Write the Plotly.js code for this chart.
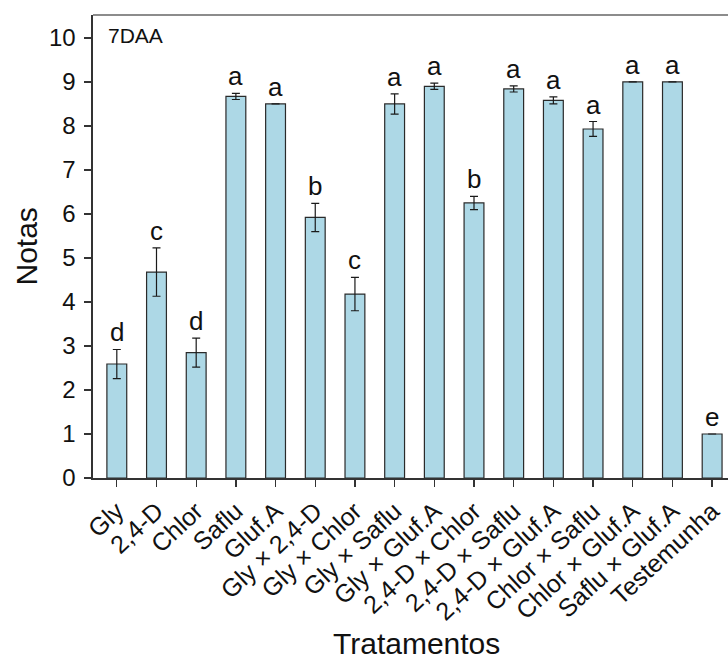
<!DOCTYPE html>
<html>
<head>
<meta charset="utf-8">
<script src="https://cdn.plot.ly/plotly-3.0.1.min.js"></script>
<style>html,body{margin:0;padding:0;background:#fff;}#chart{width:728px;height:659px;}</style>
</head>
<body>
<div id="chart"></div>
<script>
const categories = ["Gly", "2,4-D", "Chlor", "Saflu", "Gluf.A",
  "Gly × 2,4-D", "Gly × Chlor", "Gly × Saflu", "Gly × Gluf.A",
  "2,4-D × Chlor", "2,4-D × Saflu", "2,4-D × Gluf.A",
  "Chlor × Saflu", "Chlor × Gluf.A", "Saflu × Gluf.A", "Testemunha"];
const means = [2.59, 4.68, 2.85, 8.67, 8.5, 5.92, 4.18, 8.5, 8.9, 6.25, 8.84, 8.58, 7.93, 9.0, 9.0, 1.0];
const errors = [0.33, 0.55, 0.33, 0.07, 0, 0.32, 0.38, 0.23, 0.07, 0.15, 0.07, 0.08, 0.17, 0, 0, 0];
const letters = ["d", "c", "d", "a", "a", "b", "c", "a", "a", "b", "a", "a", "a", "a", "a", "e"];
const panelLabel = "7DAA";
const xTitle = "Tratamentos";
const yTitle = "Notas";

const FONT = "Arial, Liberation Sans, sans-serif";

const trace = {
  type: "bar",
  x: categories,
  y: means,
  width: 0.5,
  marker: {color: "#ADD8E6", line: {color: "#2a2a2a", width: 1.2}},
  error_y: {type: "data", array: errors, visible: true, color: "#1a1a1a", thickness: 1.2, width: 4},
  hoverinfo: "skip"
};

const annotations = categories.map((c, i) => ({
  x: c, y: means[i] + errors[i], xref: "x", yref: "y",
  text: letters[i], showarrow: false, yanchor: "bottom", yshift: 0,
  font: {family: FONT, size: 26, color: "#111"}
}));
annotations.push({
  xref: "paper", yref: "paper", x: 0.02, y: 0.985, xanchor: "left", yanchor: "top",
  text: panelLabel, showarrow: false,
  font: {family: FONT, size: 21, color: "#111"}
});
// axis titles placed in pixel space below / left of the plot
annotations.push({
  xref: "paper", yref: "paper", x: 0.51, y: 0, yshift: -147, xanchor: "center", yanchor: "top",
  text: xTitle, showarrow: false,
  font: {family: FONT, size: 30, color: "#111"}
});
annotations.push({
  xref: "paper", yref: "paper", x: 0, xshift: -67, y: 0.5, xanchor: "center", yanchor: "middle",
  text: yTitle, textangle: -90, showarrow: false,
  font: {family: FONT, size: 30, color: "#111"}
});

const layout = {
  width: 728, height: 659,
  margin: {l: 93, r: 0, t: 15, b: 181},
  paper_bgcolor: "#fff", plot_bgcolor: "#fff",
  showlegend: false,
  xaxis: {
    type: "category",
    automargin: false,
    range: [-0.6, 15.4],
    tickangle: -43,
    ticks: "outside", ticklen: 7, tickcolor: "#333", tickwidth: 1.3,
    showline: true, linecolor: "#333", linewidth: 1.6,
    showgrid: false, zeroline: false,
    tickfont: {family: FONT, size: 25, color: "#111"}
  },
  yaxis: {
    automargin: false,
    range: [0, 10.52],
    tickvals: [0,1,2,3,4,5,6,7,8,9,10],
    ticks: "outside", ticklen: 7, tickcolor: "#333", tickwidth: 1.3,
    ticklabelstandoff: 4,
    showline: true, linecolor: "#333", linewidth: 1.6,
    showgrid: false, zeroline: false,
    tickfont: {family: FONT, size: 24, color: "#111"}
  },
  shapes: [{type: "line", xref: "paper", yref: "paper", x0: 0, x1: 1, y0: 1, y1: 1,
    line: {color: "#666", width: 1.6}}],
  annotations: annotations
};

Plotly.newPlot("chart", [trace], layout, {displayModeBar: false, staticPlot: true});
</script>
</body>
</html>
